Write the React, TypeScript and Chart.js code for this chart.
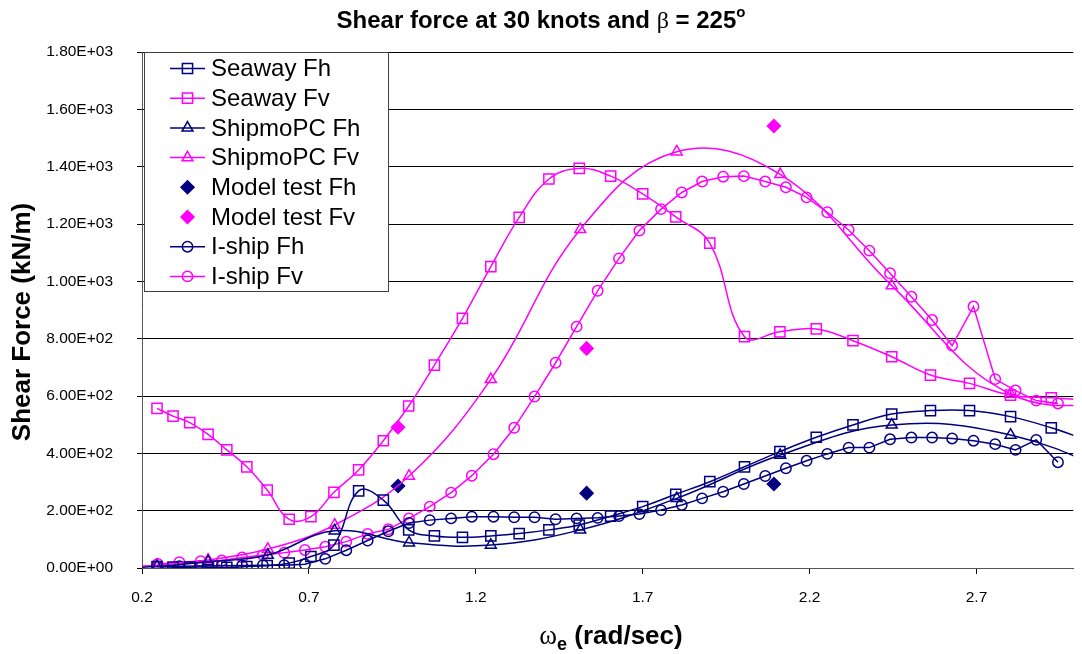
import React, { useEffect, useRef } from 'react';
import { Chart, registerables } from 'chart.js';
import { drawPoint } from 'chart.js/helpers';

Chart.register(...registerables);

const NAVY = '#000080';
const MAGENTA = '#FF00FF';
const SANS = '"Liberation Sans", Arial, Helvetica, sans-serif';
const SERIF = '"Liberation Serif", "Times New Roman", serif';

// Encounter frequencies (rad/sec) and shear forces (kN/m)
const seawayOmega = [0.245, 0.293, 0.343, 0.398, 0.454, 0.514, 0.575, 0.641, 0.706, 0.775, 0.849, 0.923, 0.999, 1.076, 1.16, 1.245, 1.33, 1.419, 1.51, 1.604, 1.7, 1.799, 1.901, 2.005, 2.111, 2.22, 2.33, 2.446, 2.562, 2.679, 2.802, 2.924, 3.04];
const seawayFh = [5, 3, 3, 3, 2, 5, 8, 17, 40, 80, 269, 237, 133, 112, 107, 112, 120, 133, 150, 181, 214, 257, 301, 353, 406, 456, 499, 537, 549, 549, 528, 489, 442];
const seawayFv = [557, 530, 507, 466, 412, 353, 272, 170, 179, 264, 342, 444, 565, 708, 871, 1051, 1223, 1357, 1394, 1367, 1305, 1225, 1133, 807, 824, 834, 793, 737, 673, 644, 603, 594, 585];

const shipmoOmega = [0.08, 0.245, 0.398, 0.577, 0.777, 1.0, 1.245, 1.513, 1.802, 2.112, 2.446, 2.802, 3.18];
const shipmoFh = [0, 5, 22, 45, 130, 88, 80, 133, 243, 394, 499, 464, 300];
const shipmoFv = [0, 10, 28, 66, 150, 321, 658, 1181, 1452, 1373, 985, 607, 570];

const modelOmega = [0.967, 1.532, 2.093];
const modelFh = [286, 261, 293];
const modelFv = [491, 766, 1542];

const ishipOmega = [0.247, 0.312, 0.376, 0.439, 0.5, 0.562, 0.626, 0.688, 0.749, 0.812, 0.876, 0.938, 1.0, 1.062, 1.126, 1.188, 1.253, 1.315, 1.376, 1.439, 1.502, 1.565, 1.629, 1.69, 1.755, 1.817, 1.878, 1.941, 2.003, 2.067, 2.129, 2.191, 2.253, 2.317, 2.379, 2.441, 2.505, 2.567, 2.627, 2.691, 2.756, 2.817, 2.879, 2.944];
const ishipFh = [5, 6, 7, 8, 9, 10, 10, 13, 32, 62, 96, 128, 157, 167, 173, 179, 179, 177, 177, 170, 173, 175, 181, 188, 202, 220, 243, 266, 293, 321, 348, 374, 398, 420, 420, 449, 455, 455, 452, 444, 432, 412, 447, 369];
const ishipFv = [14, 20, 24, 26, 37, 45, 53, 63, 74, 92, 119, 135, 173, 214, 263, 322, 397, 489, 598, 716, 842, 967, 1080, 1177, 1252, 1310, 1348, 1365, 1367, 1348, 1328, 1293, 1241, 1179, 1107, 1028, 946, 865, 776, 912, 659, 619, 584, 574];

const xTickValues = [0.2, 0.7, 1.2, 1.7, 2.2, 2.7];
const xRange = [0.2, 2.99];
const yRange = [0, 1800];
const yStep = 200;

type SeriesDef = {
  label: string;
  xs: number[];
  ys: number[];
  color: string;
  marker: string;
  radius: number;
  filled: boolean;
  line: boolean;
  tension: number;
};

const series: SeriesDef[] = [
  { label: 'Seaway Fh', xs: seawayOmega, ys: seawayFh, color: NAVY, marker: 'rect', radius: 7.2, filled: false, line: true, tension: 0.4 },
  { label: 'Seaway Fv', xs: seawayOmega, ys: seawayFv, color: MAGENTA, marker: 'rect', radius: 7.2, filled: false, line: true, tension: 0.4 },
  { label: 'ShipmoPC Fh', xs: shipmoOmega, ys: shipmoFh, color: NAVY, marker: 'triangle', radius: 6.3, filled: false, line: true, tension: 0.4 },
  { label: 'ShipmoPC Fv', xs: shipmoOmega, ys: shipmoFv, color: MAGENTA, marker: 'triangle', radius: 6.3, filled: false, line: true, tension: 0.4 },
  { label: 'Model test Fh', xs: modelOmega, ys: modelFh, color: NAVY, marker: 'rectRot', radius: 6.5, filled: true, line: false, tension: 0 },
  { label: 'Model test Fv', xs: modelOmega, ys: modelFv, color: MAGENTA, marker: 'rectRot', radius: 6.5, filled: true, line: false, tension: 0 },
  { label: 'I-ship Fh', xs: ishipOmega, ys: ishipFh, color: NAVY, marker: 'circle', radius: 5.2, filled: false, line: true, tension: 0 },
  { label: 'I-ship Fv', xs: ishipOmega, ys: ishipFv, color: MAGENTA, marker: 'circle', radius: 5.2, filled: false, line: true, tension: 0 },
];

function sci(v: number): string {
  const [m, e] = Number(v).toExponential(2).split('e');
  const n = parseInt(e, 10);
  return `${m}E${n < 0 ? '-' : '+'}${String(Math.abs(n)).padStart(2, '0')}`;
}

type Part = { t: string; font: string; dy?: number };

function drawParts(ctx: CanvasRenderingContext2D, parts: Part[], cx: number, baseline: number) {
  let total = 0;
  const widths = parts.map((p) => {
    ctx.font = p.font;
    const w = ctx.measureText(p.t).width;
    total += w;
    return w;
  });
  let x = cx - total / 2;
  ctx.textAlign = 'left';
  ctx.textBaseline = 'alphabetic';
  parts.forEach((p, i) => {
    ctx.font = p.font;
    ctx.fillText(p.t, x, baseline + (p.dy || 0));
    x += widths[i];
  });
}

const decorations = {
  id: 'decorations',
  afterDraw(chart: any) {
    const ctx: CanvasRenderingContext2D = chart.ctx;
    ctx.save();
    ctx.fillStyle = '#000';

    // Title
    drawParts(ctx, [
      { t: 'Shear force at 30 knots and ', font: `bold 24px ${SANS}` },
      { t: 'β', font: `24px ${SERIF}` },
      { t: ' = 225', font: `bold 24px ${SANS}` },
      { t: 'o', font: `bold 15px ${SANS}`, dy: -11 },
    ], 541, 28);

    // X axis title
    drawParts(ctx, [
      { t: 'ω', font: `27px ${SERIF}` },
      { t: 'e', font: `bold 18px ${SANS}`, dy: 6 },
      { t: ' (rad/sec)', font: `bold 26px ${SANS}` },
    ], 611, 644);

    // Y axis title
    ctx.save();
    ctx.translate(23, 322);
    ctx.rotate(-Math.PI / 2);
    ctx.font = `bold 26px ${SANS}`;
    ctx.textAlign = 'center';
    ctx.textBaseline = 'middle';
    ctx.fillText('Shear Force (kN/m)', 0, 0);
    ctx.restore();

    // Legend
    const bx = 144.5, by = 52.5, bw = 244, bh = 239;
    ctx.fillStyle = '#fff';
    ctx.fillRect(bx, by, bw, bh);
    ctx.strokeStyle = '#404040';
    ctx.lineWidth = 1;
    ctx.strokeRect(bx, by, bw, bh);
    const rowY0 = 68.5, rowStep = 29.7;
    series.forEach((s, i) => {
      const y = rowY0 + i * rowStep;
      ctx.strokeStyle = s.color;
      ctx.lineWidth = 1.5;
      if (s.line) {
        ctx.beginPath();
        ctx.moveTo(170, y);
        ctx.lineTo(205, y);
        ctx.stroke();
      }
      ctx.fillStyle = s.filled ? s.color : 'rgba(0,0,0,0)';
      drawPoint(ctx, { pointStyle: s.marker, radius: s.radius, borderWidth: 1.5, rotation: 0 } as any, 187.5, y);
      ctx.fillStyle = '#000';
      ctx.font = `24px ${SANS}`;
      ctx.textAlign = 'left';
      ctx.textBaseline = 'middle';
      ctx.fillText(s.label, 211, y + 1);
    });
    ctx.restore();
  },
};

export default function App() {
  const canvasRef = useRef<HTMLCanvasElement | null>(null);

  useEffect(() => {
    const canvas = canvasRef.current;
    if (!canvas) return;
    const tickFont = { family: SANS, size: 15.5 };
    const chart = new Chart(canvas, {
      type: 'line',
      data: {
        datasets: series.map((s) => ({
          label: s.label,
          data: s.xs.map((x, i) => ({ x, y: s.ys[i] })),
          borderColor: s.color,
          backgroundColor: s.filled ? s.color : 'rgba(0,0,0,0)',
          borderWidth: 1.5,
          showLine: s.line,
          tension: s.tension,
          fill: false,
          pointStyle: s.marker as any,
          pointRadius: s.radius,
          pointHoverRadius: s.radius,
          pointBorderWidth: 1.5,
          pointBorderColor: s.color,
          pointBackgroundColor: s.filled ? s.color : 'rgba(0,0,0,0)',
        })),
      },
      options: {
        animation: false,
        responsive: false,
        maintainAspectRatio: false,
        events: [],
        layout: { padding: { top: 52, right: 1, left: 0, bottom: 0 } },
        plugins: {
          legend: { display: false },
          title: { display: false },
          tooltip: { enabled: false },
        },
        scales: {
          x: {
            type: 'linear',
            min: xRange[0],
            max: xRange[1],
            afterBuildTicks: (scale: any) => {
              scale.ticks = xTickValues.map((v) => ({ value: v }));
            },
            afterFit: (scale: any) => {
              scale.height = 86;
            },
            grid: { drawOnChartArea: false, drawTicks: true, tickLength: 6, color: '#000' },
            border: { color: '#555', width: 1 },
            ticks: {
              font: tickFont,
              color: '#000',
              padding: 14,
              maxRotation: 0,
              callback: (v: any) => Number(v).toFixed(1),
            },
          },
          y: {
            type: 'linear',
            min: yRange[0],
            max: yRange[1],
            afterFit: (scale: any) => {
              scale.width = 142;
            },
            grid: { color: '#000', tickLength: 5, lineWidth: 1 },
            border: { color: '#555', width: 1 },
            ticks: {
              stepSize: yStep,
              font: tickFont,
              color: '#000',
              padding: 24,
              callback: (v: any) => sci(Number(v)),
            },
          },
        },
      },
      plugins: [decorations],
    });
    return () => chart.destroy();
  }, []);

  return (
    <div style={{ position: 'absolute', left: 0, top: 0, width: 1082, height: 654, background: '#fff' }}>
      <canvas ref={canvasRef} width={1082} height={654} style={{ width: 1082, height: 654, display: 'block' }} />
    </div>
  );
}
